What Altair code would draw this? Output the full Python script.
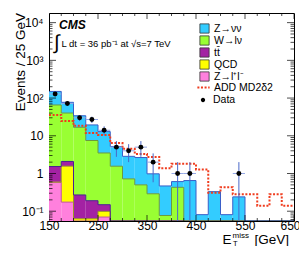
import altair as alt
import pandas as pd

# ---------------- data ----------------
bin_lo = [150, 175, 200, 225, 250, 275, 300, 325, 350, 375,
          400, 425, 450, 475, 500, 525, 550, 575, 600, 625]
bin_hi = [175, 200, 225, 250, 275, 300, 325, 350, 375, 400,
          425, 450, 475, 500, 525, 550, 575, 600, 625, 650]

zll   = [0.59, 0.174, 0.02, 0.02, 0.07, 0, 0, 0, 0, 0, 0, 0, 0, 0, 0, 0, 0, 0, 0, 0]
qcd   = [0, 1.39, 0.043, 0.043, 0.029, 0, 0, 0, 0, 0, 0, 0, 0, 0, 0, 0, 0, 0, 0, 0]
ttbar = [0.94, 0.52, 0.207, 0.127, 0.05, 0, 0, 0, 0, 0, 0, 0, 0, 0, 0, 0, 0, 0, 0, 0]
wlnu  = [64, 38, 16.5, 7.3, 3.35, 1.56, 0.72, 0.50, 0.29, 0.077,
         0.43, 0, 0, 0, 0, 0, 0, 0, 0, 0]
znn   = [84.4, 37, 17.2, 11.9, 9.4, 3.64, 2.13, 2.15, 0.69, 0.39,
         0.18, 0.65, 0.081, 0.33, 0.081, 0.24, 0, 0, 0, 0]
add   = [35.7, 24.5, 18.4, 11.8, 10.5, 6.4, 4.5, 3.3, 2.75, 1.38,
         1.8, 1.8, 1.28, 0.31, 0.43, 0.28, 0.28, 0.14, 0.28, 0.14]
data  = [128, 72, 30, 27, 14, 5, 4, 5, 2, 0, 1, 1, 0, 0, 0, 1, 0, 0, 0, 0]

names  = ["Z→νν", "W→lν", "tt̄", "QCD", "Z→l⁺l⁻"]
colors = ["#33ccff", "#99ff33", "#a322a3", "#ffff00", "#ff80dd"]
edge_colors = ["#3a5fc8", "#6a9a40", "#4a2090", "#9a9a20", "#c050a0"]

x_labels = [150, 250, 350, 450, 550, 650]
y_labels = [0.1, 1, 10, 100, 1000, 10000]

FLOOR = 0.055
YMAX = 18000
W, H = 245, 208
FONT = "Liberation Sans"

# ---------------- derived tables ----------------
stack_order = [(names[4], zll), (names[3], qcd), (names[2], ttbar),
               (names[1], wlnu), (names[0], znn)]
rect_rows = []
cum = [0.0] * 20
cum_tops = {}
for nm, vals in stack_order:
    tops = []
    for i in range(20):
        b = cum[i]
        t = cum[i] + vals[i]
        tops.append(t)
        if vals[i] > 0 and t > FLOOR:
            rect_rows.append(dict(comp=nm, lo=bin_lo[i], hi=bin_hi[i],
                                  top=t, bot=max(b, FLOOR)))
    cum = tops
    cum_tops[nm] = tops
rects = pd.DataFrame(rect_rows)

xs = alt.Scale(domain=[150, 650], nice=False, zero=False)
ys = alt.Scale(type="log", domain=[FLOOR, YMAX], nice=False, clamp=True)

xaxis = alt.Axis(values=x_labels, ticks=False, domain=False, grid=False,
                 labelFontSize=12, labelPadding=-1, labelFont=FONT, labelColor="black",
                 labelAlign=alt.expr("datum.value == 650 ? 'right' : 'center'"),
                 labelOffset=alt.expr("datum.value == 650 ? 6 : 0"),
                 title=None)
yaxis = alt.Axis(values=y_labels, ticks=False, domain=False, grid=False,
                 labelFontSize=12, labelPadding=6, labelFont=FONT, labelColor="black",
                 labelExpr="datum.value < 0.5 ? '10⁻¹' : datum.value < 5 ? '1' : "
                           "datum.value < 50 ? '10' : datum.value < 500 ? '10²' : "
                           "datum.value < 5000 ? '10³' : '10⁴'",
                 title=None)

hist = alt.Chart(rects).mark_rect(clip=True, strokeWidth=0).encode(
    x=alt.X("lo:Q", scale=xs, axis=xaxis),
    x2="hi:Q",
    y=alt.Y("top:Q", scale=ys, axis=yaxis),
    y2="bot:Q",
    fill=alt.Fill("comp:N", scale=alt.Scale(domain=names, range=colors),
                  legend=alt.Legend(title=None, orient="none", legendX=150, legendY=10,
                                    symbolType="square", symbolSize=85,
                                    symbolStrokeColor="#333", symbolStrokeWidth=0.8,
                                    labelFontSize=10.5, labelFont=FONT, labelOffset=4,
                                    rowPadding=-1.6, padding=0, labelColor="black")),
)

layers = [hist]

# outlines as step lines
edges = bin_lo + [650]
for nm, ec in zip(names[::-1], edge_colors[::-1]):
    tops = cum_tops[nm]
    vals = [max(v, FLOOR) for v in tops] + [max(tops[-1], FLOOR)]
    df = pd.DataFrame({"x": edges, "y": vals})
    layers.append(alt.Chart(df).mark_line(interpolate="step-after", clip=True,
                                          color=ec, strokeWidth=1).encode(
        x=alt.X("x:Q", scale=xs, axis=xaxis),
        y=alt.Y("y:Q", scale=ys, axis=yaxis)))

# ADD signal
add_df = pd.DataFrame({"x": edges, "y": add + [add[-1]], "lab": ["ADD MD2δ2"] * 21})
layers.append(alt.Chart(add_df).mark_line(interpolate="step-after", clip=True,
                                          strokeWidth=2, strokeDash=[2, 1.6]).encode(
    x=alt.X("x:Q", scale=xs, axis=xaxis),
    y=alt.Y("y:Q", scale=ys, axis=yaxis),
    stroke=alt.Stroke("lab:N", scale=alt.Scale(domain=["ADD MD2δ2"], range=["#f03c1e"]),
                      legend=alt.Legend(title=None, orient="none", legendX=147, legendY=67,
                                        symbolType="stroke", symbolSize=150,
                                        symbolStrokeWidth=2, symbolDash=[2, 1.6],
                                        labelFontSize=10.5, labelFont=FONT, labelOffset=3,
                                        padding=0, labelColor="black"))))

# data points with errors
drows = []
for i in range(20):
    n = data[i]
    if n > 0:
        e = n ** 0.5
        drows.append(dict(c=(bin_lo[i] + bin_hi[i]) / 2, lo=bin_lo[i], hi=bin_hi[i],
                          n=n, elo=max(n - e, FLOOR), ehi=n + e, lab="Data"))
ddf = pd.DataFrame(drows)

layers.append(alt.Chart(ddf).mark_rule(clip=True, color="#95a8e6", strokeWidth=1).encode(
    x=alt.X("lo:Q", scale=xs, axis=xaxis), x2="hi:Q",
    y=alt.Y("n:Q", scale=ys, axis=yaxis)))
layers.append(alt.Chart(ddf).mark_rule(clip=True, color="#4a68c8", strokeWidth=1).encode(
    x=alt.X("c:Q", scale=xs, axis=xaxis),
    y=alt.Y("elo:Q", scale=ys, axis=yaxis), y2="ehi:Q"))
layers.append(alt.Chart(ddf).mark_point(clip=True, filled=True, color="black", size=24,
                                        shape="circle", opacity=1).encode(
    x=alt.X("c:Q", scale=xs, axis=xaxis),
    y=alt.Y("n:Q", scale=ys, axis=yaxis),
    opacity=alt.Opacity("lab:N", scale=alt.Scale(domain=["Data"], range=[1]),
                        legend=alt.Legend(title=None, orient="none", legendX=147, legendY=80,
                                          symbolType="M-1,0H1M-0.35,0A0.35,0.35,0,1,1,0.35,0A0.35,0.35,0,1,1,-0.35,0Z",
                                          symbolSize=150, symbolFillColor="black",
                                          symbolStrokeColor="black", symbolStrokeWidth=1,
                                          labelFontSize=10.5, labelFont=FONT, labelOffset=3,
                                          padding=0, labelColor="black"))))

# inside ticks (frame ticks)
x_minor = [v for v in range(175, 650, 25) if v not in x_labels]
xt = pd.DataFrame({"v": x_labels + x_minor,
                   "s": [12] * len(x_labels) + [6] * len(x_minor)})
y_minor = []
for dec in [0.01, 0.1, 1, 10, 100, 1000, 10000]:
    for m in range(2, 10):
        v = m * dec
        if FLOOR <= v <= YMAX:
            y_minor.append(v)
yt = pd.DataFrame({"v": y_labels + y_minor,
                   "s": [14] * len(y_labels) + [7] * len(y_minor)})

for yv in [H, 0]:
    layers.append(alt.Chart(xt).mark_tick(clip=True, thickness=1, color="black",
                                          orient="vertical").encode(
        x=alt.X("v:Q", scale=xs, axis=xaxis), y=alt.value(yv),
        size=alt.Size("s:Q", scale=None)))
for xv in [0, W]:
    layers.append(alt.Chart(yt).mark_tick(clip=True, thickness=1, color="black",
                                          orient="horizontal").encode(
        y=alt.Y("v:Q", scale=ys, axis=yaxis), x=alt.value(xv),
        size=alt.Size("s:Q", scale=None)))

# texts
def txt(s, x, y, size, **kw):
    return alt.Chart(pd.DataFrame({"t": [s]})).mark_text(
        text=s, font=FONT, fontSize=size, color="black", baseline="alphabetic",
        **kw).encode(x=alt.value(x), y=alt.value(y))

layers += [
    txt("CMS", 10, 16, 12, align="left", fontWeight="bold", fontStyle="italic"),
    txt("∫", 5, 36, 20, align="left"),
    txt("L dt = 36 pb⁻¹ at √s=7 TeV", 12.5, 33.5, 9.5, align="left"),
    txt("Events / 25 GeV", -24, 0, 13.5, align="right", angle=270),
    txt("E", 173.5, 231, 13.5, align="left"),
    txt("miss", 183.5, 224.5, 8, align="left"),
    txt("T", 184, 233.3, 7.5, align="left"),
    txt("[GeV]", 205.5, 231, 13.5, align="left"),
]

chart = alt.layer(*layers).properties(
    width=W, height=H,
    autosize=alt.AutoSizeParams(type="none"),
    padding={"left": 41, "top": 5, "right": 5, "bottom": 25},
    background="white",
).configure_view(stroke="black", strokeWidth=1)

chart.save("out.html", embed_options={"renderer": "svg", "actions": False})
